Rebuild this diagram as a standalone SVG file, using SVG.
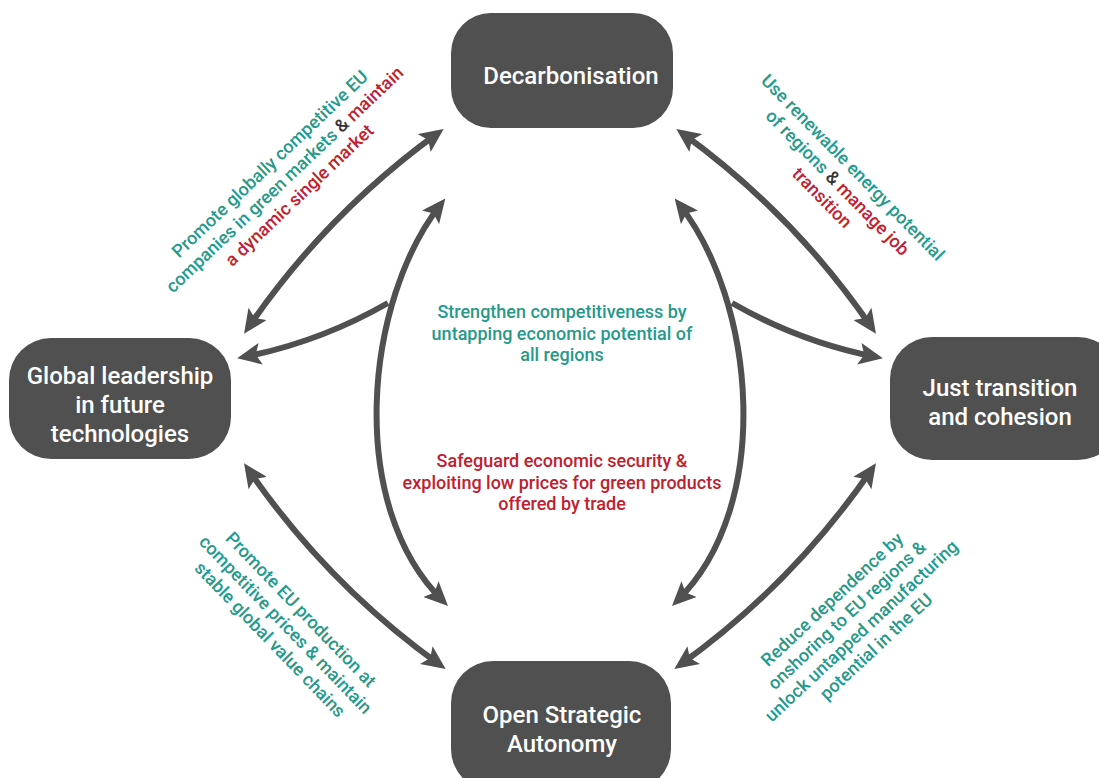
<svg xmlns="http://www.w3.org/2000/svg" width="1099" height="778" viewBox="0 0 1099 778">
<style>
.node{fill:#505050}
.nt{fill:#ffffff;font-family:Roboto,"Liberation Sans",sans-serif;font-size:24px;font-weight:500;text-anchor:middle}
.lbl{font-family:Roboto,"Liberation Sans",sans-serif;font-size:18px;font-weight:500;text-anchor:middle}
.g{fill:#26998a}
.r{fill:#c1202e}
.k{fill:#333333}
.c{fill:none;stroke:#505050;stroke-width:6}
</style>
<defs>
<marker id="ah" viewBox="0 0 24 22" refX="17" refY="11" markerWidth="24" markerHeight="22" markerUnits="userSpaceOnUse" orient="auto-start-reverse">
<path d="M0,0 L24,11 L0,22 L5,11 z" fill="#505050"/>
</marker>
</defs>
<rect width="1099" height="778" fill="#ffffff"/>
<g id="connectors">
<path class="c" d="M248,328 Q326,214 438,133" marker-start="url(#ah)" marker-end="url(#ah)"/>
<path class="c" d="M872,328 Q794,214 682,133" marker-start="url(#ah)" marker-end="url(#ah)"/>
<path class="c" d="M248,469 Q327,584 440,665" marker-start="url(#ah)" marker-end="url(#ah)"/>
<path class="c" d="M872,469 Q793,584 680,665" marker-start="url(#ah)" marker-end="url(#ah)"/>
<path class="c" d="M441,204 C365,300 345,505 443,601" marker-start="url(#ah)" marker-end="url(#ah)"/>
<path class="c" d="M679,204 C755,300 775,505 677,601" marker-start="url(#ah)" marker-end="url(#ah)"/>
<path class="c" d="M388,303 Q320,342 244,357" marker-end="url(#ah)"/>
<path class="c" d="M732,303 Q800,342 876,357" marker-end="url(#ah)"/>
</g>
<g id="node-decarbonisation">
<rect class="node" x="451" y="13" width="222" height="115" rx="40"/>
<text class="nt" x="571" y="84">Decarbonisation</text>
</g>
<g id="node-global-leadership">
<rect class="node" x="9" y="338" width="222" height="121" rx="42"/>
<text class="nt" x="120" y="384">Global leadership</text>
<text class="nt" x="120" y="413">in future</text>
<text class="nt" x="120" y="442">technologies</text>
</g>
<g id="node-just-transition">
<rect class="node" x="890" y="337" width="230" height="123" rx="42"/>
<text class="nt" x="1000" y="396">Just transition</text>
<text class="nt" x="1000" y="425">and cohesion</text>
</g>
<g id="node-open-strategic-autonomy">
<rect class="node" x="451" y="661" width="220" height="130" rx="42"/>
<text class="nt" x="562" y="723">Open Strategic</text>
<text class="nt" x="562" y="752">Autonomy</text>
</g>
<g id="label-center-top">
<text class="lbl g" x="562" y="318">Strengthen competitiveness by</text>
<text class="lbl g" x="562" y="339.5">untapping economic potential of</text>
<text class="lbl g" x="562" y="361">all regions</text>
</g>
<g id="label-center-bottom">
<text class="lbl r" x="562" y="467">Safeguard economic security &amp;</text>
<text class="lbl r" x="562" y="488.5">exploiting low prices for green products</text>
<text class="lbl r" x="562" y="510">offered by trade</text>
</g>
<g id="label-top-left" transform="translate(285,180) rotate(-43.5)">
<text class="lbl g" x="0" y="-16">Promote globally competitive EU</text>
<text class="lbl" x="0" y="5.5"><tspan class="g">companies in green markets</tspan><tspan class="k"> &amp; </tspan><tspan class="r">maintain</tspan></text>
<text class="lbl r" x="0" y="27">a dynamic single market</text>
</g>
<g id="label-top-right" transform="translate(837,183) rotate(45.5)">
<text class="lbl g" x="0" y="-16">Use renewable energy potential</text>
<text class="lbl" x="0" y="5.5"><tspan class="g">of regions</tspan><tspan class="k"> &amp; </tspan><tspan class="r">manage job</tspan></text>
<text class="lbl r" x="0" y="27">transition</text>
</g>
<g id="label-bottom-left" transform="translate(285,625) rotate(46)">
<text class="lbl g" x="0" y="-16">Promote EU production at</text>
<text class="lbl g" x="0" y="5.5">competitive prices &amp; maintain</text>
<text class="lbl g" x="0" y="27">stable global value chains</text>
</g>
<g id="label-bottom-right" transform="translate(855,624) rotate(-43)">
<text class="lbl g" x="0" y="-27.5">Reduce dependence by</text>
<text class="lbl g" x="0" y="-6">onshoring to EU regions &amp;</text>
<text class="lbl g" x="0" y="15.5">unlock untapped manufacturing</text>
<text class="lbl g" x="0" y="37">potential in the EU</text>
</g>
</svg>
